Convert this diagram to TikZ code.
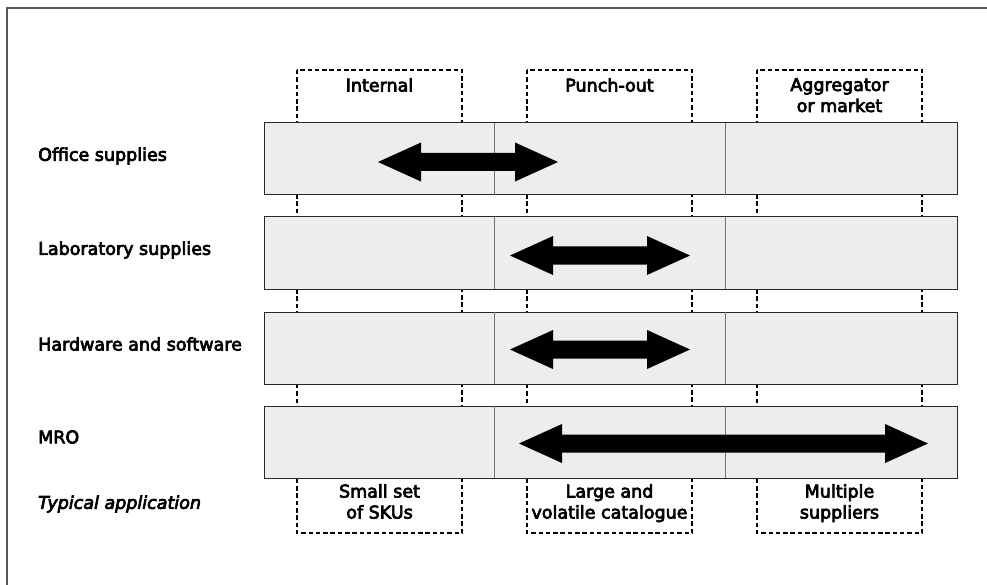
\documentclass[tikz,border=0pt]{standalone}
\usepackage{fontspec}
\setmainfont{DejaVu Sans}[FakeBold=4]
\begin{document}
\begin{tikzpicture}[x=1pt,y=-1pt,
  lbl/.style={font=\fontsize{17.5}{21}\selectfont, inner sep=0pt},
  collbl/.style={lbl, align=center, anchor=north},
  rowlbl/.style={lbl, anchor=west},
  colbox/.style={draw=black, line width=2pt, dash pattern=on 4.5pt off 2.8pt},
  rowbox/.style={draw=black!85, fill=black!7, line width=1pt},
  divider/.style={draw=black!55, line width=1pt},
  frameline/.style={draw=black!65, line width=1.5pt},
  arr/.style={fill=black}]
\useasboundingbox (0,0) rectangle (987,585);
\draw[frameline] (7,586) -- (7,8) -- (988,8);
% column dashed boxes
\foreach \a/\b in {297/462, 527/692, 757/922}
  \draw[colbox] (\a,70) rectangle (\b,533);
% rows
\foreach \t/\n in {123/r1, 217/r2, 312/r3, 406/r4}{
  \draw[rowbox] (264,\t) rectangle (957,\t+72);
  \draw[divider] (494,\t) -- (494,\t+72);
  \draw[divider] (725,\t) -- (725,\t+72);
}
% arrows
\newcommand\dblarr[3]{%
  \fill[arr] (#1,#3) -- ({#1+43},{#3-19.5}) -- ({#1+43},{#3-9}) -- ({#2-43},{#3-9})
   -- ({#2-43},{#3-19.5}) -- (#2,#3) -- ({#2-43},{#3+19.5}) -- ({#2-43},{#3+9})
   -- ({#1+43},{#3+9}) -- ({#1+43},{#3+19.5}) -- cycle;}
\dblarr{378}{558}{162}
\dblarr{510}{690}{255.5}
\dblarr{510}{690}{349.5}
\dblarr{519}{928}{443.5}
% column headers
\node[collbl] (h1) at (379.5,78) {Internal};
\node[collbl] (h2) at (609.5,78) {Punch-out};
\node[collbl] (h3) at (839.5,78) {Aggregator\\or market};
% bottom labels
\node[collbl] (b1) at (379.5,484) {Small set\\of SKUs};
\node[collbl] (b2) at (609.5,484) {Large and\\volatile catalogue};
\node[collbl] (b3) at (839.5,484) {Multiple\\suppliers};
% row labels
\node[rowlbl] (l1) at (38,156) {Office supplies};
\node[rowlbl] (l2) at (38,250) {Laboratory supplies};
\node[rowlbl] (l3) at (38,344) {Hardware and software};
\node[rowlbl] (l4) at (38,437) {MRO};
\node[rowlbl, font=\fontsize{17.5}{21}\selectfont\itshape] (l5) at (38,504) {Typical application};
\end{tikzpicture}
\end{document}
